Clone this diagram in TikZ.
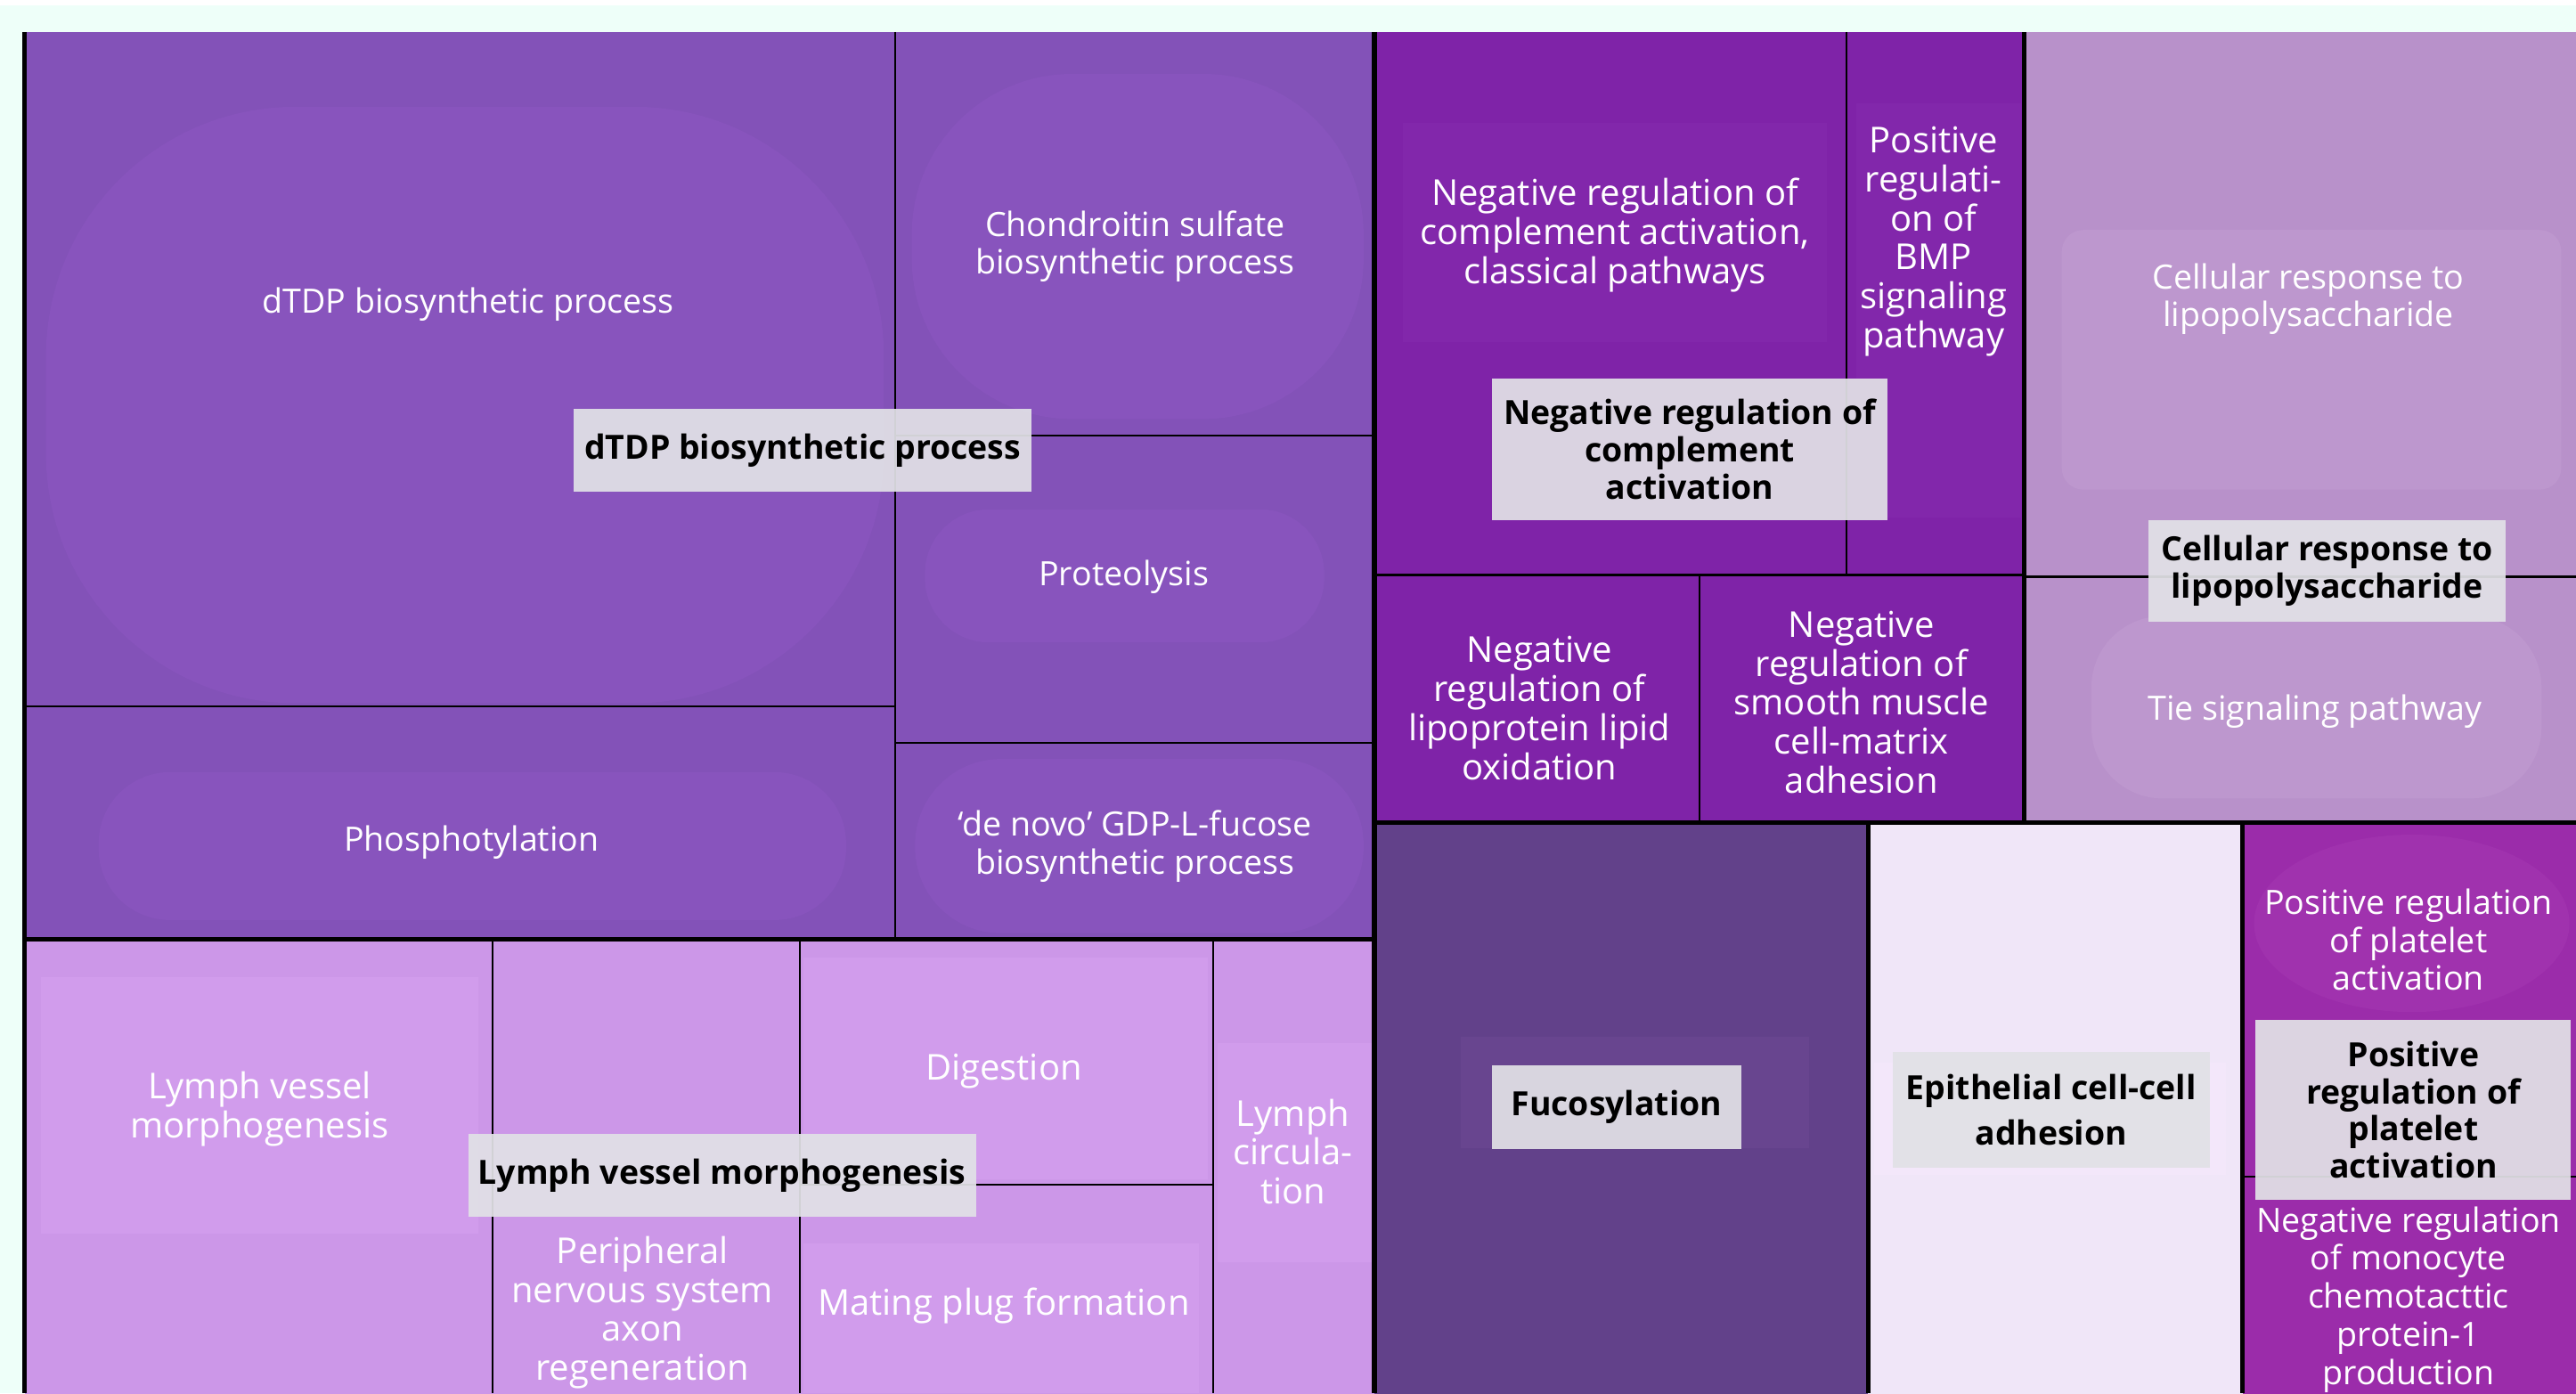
\documentclass[tikz,border=0pt]{standalone}
\usepackage{fontspec}
\setmainfont{Open Sans}
\definecolor{mint}{HTML}{EEFFF9}
\definecolor{cA}{HTML}{8352B8}
\definecolor{bA}{HTML}{8854BD}
\definecolor{cB}{HTML}{7F23A8}
\definecolor{bB}{HTML}{8227AB}
\definecolor{cC}{HTML}{B891CA}
\definecolor{bC}{HTML}{BD97CE}
\definecolor{cD}{HTML}{CC97E8}
\definecolor{bD}{HTML}{D19CEC}
\definecolor{cE}{HTML}{62418A}
\definecolor{bE}{HTML}{68458F}
\definecolor{cF}{HTML}{F0E6F8}
\definecolor{bF}{HTML}{F3E7FA}
\definecolor{cG}{HTML}{9B2CAA}
\definecolor{bG}{HTML}{A032AE}
\definecolor{labgray}{HTML}{E1E1E6}
\tikzset{
  tl/.style={text=white, align=center, inner sep=0pt, font=\fontsize{9.4}{10.7}\selectfont},
  tlbig/.style={tl, font=\fontsize{10}{10.95}\selectfont},
  labbox/.style={fill=labgray, fill opacity=0.93, text opacity=1, text=black, align=center, inner sep=0pt, font=\fontsize{9.35}{10.4}\selectfont\bfseries},
  gline/.style={line width=1.3pt, black},
  mline/.style={line width=0.9pt, black},
  tline/.style={line width=0.55pt, black},
}
\begin{document}
\begin{tikzpicture}[x=0.4611pt,y=-0.4611pt]
\useasboundingbox (0,0) rectangle (1568,848);
\clip (0,0) rectangle (1568,848);
\fill[mint] (0,0) rectangle (1568,848);
\fill[white] (0,0) rectangle (1568,3);
% group fills
\fill[cA] (15,19.5) rectangle (836.6,571.5);
\fill[cB] (836.6,19.5) rectangle (1232,500.5);
\fill[cC] (1232,19.5) rectangle (1600,500.5);
\fill[cD] (15,571.5) rectangle (836.6,860);
\fill[cE] (836.6,500.5) rectangle (1137,860);
\fill[cF] (1137,500.5) rectangle (1365,860);
\fill[cG] (1365,500.5) rectangle (1600,860);
% subtle blobs
\fill[bA, rounded corners=70pt] (28,65) rectangle (538,428);
\fill[bA, rounded corners=45pt] (555,45) rectangle (830,255);
\fill[bA, rounded corners=18pt] (563,310) rectangle (806,391);
\fill[bA, rounded corners=24pt] (557,462) rectangle (830,568);
\fill[bA, rounded corners=20pt] (60,470) rectangle (515,560);
\fill[bB] (854,75) rectangle (1112,208);
\fill[bB] (1130,63) rectangle (1230,315);
\fill[bC, rounded corners=6pt] (1255,140) rectangle (1559,298);
\fill[bC, rounded corners=20pt] (1273,375) rectangle (1547,486);
\fill[bD] (25,595) rectangle (291,751);
\fill[bD] (489,583) rectangle (735,718);
\fill[bD] (489,757) rectangle (730,848);
\fill[bD] (741,635) rectangle (835,768);
\fill[bE] (889,631) rectangle (1101,699);
\fill[bF] (1141,647) rectangle (1355,715);
\fill[bG] (1468,562) ellipse [x radius=96, y radius=54];
% thin internal lines
\draw[tline] (545,19.5) -- (545,571.5);
\draw[tline] (15,430) -- (545,430);
\draw[tline] (545,265) -- (836.6,265);
\draw[tline] (545,452) -- (836.6,452);
\draw[tline] (1124,19.5) -- (1124,350);
\draw[mline] (836.6,350) -- (1232,350);
\draw[tline] (1034.5,350) -- (1034.5,500.5);
\draw[tline] (1232,351) -- (1568,351);
\draw[tline] (300,571.5) -- (300,848);
\draw[tline] (487,571.5) -- (487,848);
\draw[tline] (738.6,571.5) -- (738.6,848);
\draw[tline] (487,721) -- (738.6,721);
\draw[tline] (1365,716) -- (1568,716);
% group borders
\draw[gline] (15,19.5) -- (15,848);
\draw[gline] (836.6,19.5) -- (836.6,848);
\draw[gline] (15,571.5) -- (836.6,571.5);
\draw[gline] (1232,19.5) -- (1232,500.5);
\draw[gline] (836.6,500.5) -- (1568,500.5);
\draw[gline] (1137,500.5) -- (1137,848);
\draw[gline] (1365,500.5) -- (1365,848);
% tile texts
\node[tl] (t1) at (285,185) {dTDP biosynthetic process};
\node[tl] (t2) at (691,150) {Chondroitin sulfate\\biosynthetic process};
\node[tl] (t3) at (684,351) {Proteolysis};
\node[tl] (t4) at (287,513) {Phosphotylation};
\node[tl] (t5) at (691,515) {‘de novo’ GDP-L-fucose\\biosynthetic process};
\node[tlbig] (t6) at (983,143) {Negative regulation of\\complement activation,\\classical pathways};
\node[tlbig] (t7) at (1177,147) {Positive\\regulati-\\on of\\BMP\\signaling\\pathway};
\node[tlbig] (t8) at (937,431) {Negative\\regulation of\\lipoprotein lipid\\oxidation};
\node[tlbig] (t9) at (1133,427.5) {Negative\\regulation of\\smooth muscle\\cell-matrix\\adhesion};
\node[tl] (t10) at (1405,182) {Cellular response to\\lipopolysaccharide};
\node[tl] (t11) at (1409,433) {Tie signaling pathway};
\node[tlbig] (t12) at (158,675) {Lymph vessel\\morphogenesis};
\node[tlbig] (t13) at (391,799) {Peripheral\\nervous system\\axon\\regeneration};
\node[tlbig] (t14) at (611,652) {Digestion};
\node[tlbig] (t15) at (611,795) {Mating plug formation};
\node[tlbig] (t16) at (787,701) {Lymph\\circula-\\tion};
\node[tl] (t17) at (1466,572) {Positive regulation\\of platelet\\activation};
\node[tl] (t18) at (1466,791) {Negative regulation\\of monocyte\\chemotacttic\\protein-1\\production};
% label boxes
\node[labbox, minimum width=128.6pt, minimum height=23.1pt] (l1) at (488.5,274) {dTDP biosynthetic process};
\node[labbox, minimum width=111.1pt, minimum height=39.7pt] (l2) at (1028.5,273.5) {Negative regulation of\\complement\\activation};
\node[labbox, minimum width=100.1pt, minimum height=28.6pt] (l3) at (1416.5,347.5) {Cellular response to\\lipopolysaccharide};
\node[labbox, minimum width=142.5pt, minimum height=23.1pt] (l4) at (439.5,715.5) {Lymph vessel morphogenesis};
\node[labbox, minimum width=70.1pt, minimum height=23.5pt] (l5) at (984,674) {Fucosylation};
\node[labbox, minimum width=89pt, minimum height=32.3pt, font=\fontsize{9.35}{12.9}\selectfont\bfseries] (l6) at (1248.5,675.5) {Epithelial cell-cell\\adhesion};
\node[labbox, minimum width=88.5pt, minimum height=50.7pt] (l7) at (1469,675.5) {Positive\\regulation of\\platelet\\activation};
\end{tikzpicture}
\end{document}
